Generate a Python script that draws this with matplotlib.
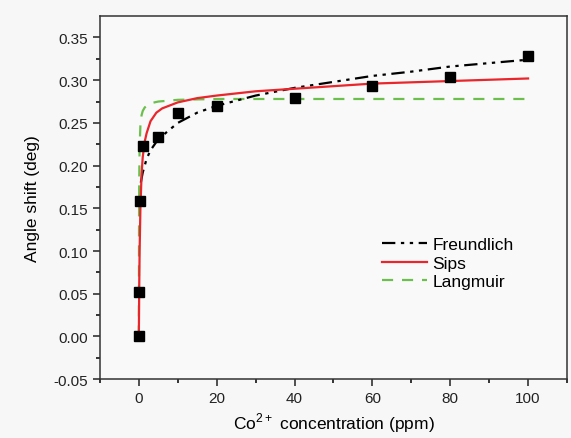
import matplotlib.pyplot as plt

plt.rcParams['font.family'] = ['Liberation Sans', 'DejaVu Sans']
plt.rcParams['mathtext.fontset'] = 'custom'
plt.rcParams['mathtext.rm'] = 'Liberation Sans'

# measured data
conc = [0, 0.1, 0.3, 1, 5, 10, 20, 40, 60, 80, 100]
shift = [0.000, 0.052, 0.159, 0.223, 0.233, 0.262, 0.270, 0.279, 0.293, 0.304, 0.328]

# fitted curves
fr_x = [0.5, 1, 2, 3, 5, 10, 15, 20, 30, 40, 50, 60, 70, 80, 90, 100]
fr_y = [0.180, 0.192, 0.208, 0.218, 0.231, 0.250, 0.262, 0.270, 0.282, 0.291,
        0.298, 0.305, 0.310, 0.316, 0.320, 0.324]

sips_x = [0, 0.1, 0.2, 0.4, 0.7, 1, 1.5, 2, 3, 4.5, 6, 10, 15, 20, 30, 40, 60, 80, 100]
sips_y = [0.000, 0.060, 0.100, 0.150, 0.190, 0.210, 0.228, 0.238, 0.252, 0.262,
          0.267, 0.274, 0.279, 0.282, 0.287, 0.290, 0.296, 0.299, 0.302]

lang_x = [0, 0.05, 0.1, 0.2, 0.4, 0.7, 1, 1.5, 2, 3, 5, 10, 20, 100]
lang_y = [0.000, 0.140, 0.185, 0.222, 0.247, 0.259, 0.264, 0.268, 0.270, 0.273,
          0.275, 0.277, 0.278, 0.278]

fig = plt.figure(figsize=(5.71, 4.39), dpi=100, facecolor='#f7f7f7')
ax = fig.add_axes([0.175, 0.134, 0.818, 0.827], facecolor='#f9f9f9')

ax.plot(lang_x, lang_y, color='#6cbf4c', lw=1.6, ls=(0, (5, 4)), label='Langmuir', zorder=2)
ax.plot(fr_x, fr_y, color='black', lw=1.6, ls=(0, (6, 2.5, 1.5, 2.5, 1.5, 2.5)),
        label='Freundlich', zorder=3)
ax.plot(sips_x, sips_y, color='#e8262b', lw=1.6, label='Sips', zorder=4)
ax.plot(conc, shift, 's', color='black', ms=6.5, zorder=5)

ax.set_xlim(-10, 110)
ax.set_ylim(-0.05, 0.375)
ax.set_xticks(range(0, 101, 20))
ax.set_xticks(range(-10, 111, 10), minor=True)
ax.set_yticks([i * 0.05 - 0.05 for i in range(9)])
ax.set_yticks([i * 0.025 - 0.05 for i in range(17)], minor=True)
ax.set_yticklabels(['%.2f' % (i * 0.05 - 0.05) for i in range(9)])
ax.tick_params(direction='out', length=5, width=1.1, labelsize=11, colors='#222222')
ax.tick_params(which='minor', direction='out', length=3, width=1.1)
ax.tick_params(top=False, right=False)
for s in ax.spines.values():
    s.set_color('#333333')
    s.set_linewidth(1.1)

ax.set_xlabel('Co$^{\\mathregular{2+}}$ concentration (ppm)', fontsize=12.5, labelpad=4)
ax.set_ylabel('Angle shift (deg)', fontsize=12.5, labelpad=10)

h, l = ax.get_legend_handles_labels()
order = [1, 2, 0]
ax.legend([h[i] for i in order], [l[i] for i in order], loc='upper left',
          bbox_to_anchor=(0.57, 0.435), frameon=False, fontsize=12.5,
          handlelength=2.6, handletextpad=0.3, labelspacing=0.2)

fig.savefig('out.png', dpi=100, facecolor=fig.get_facecolor())
